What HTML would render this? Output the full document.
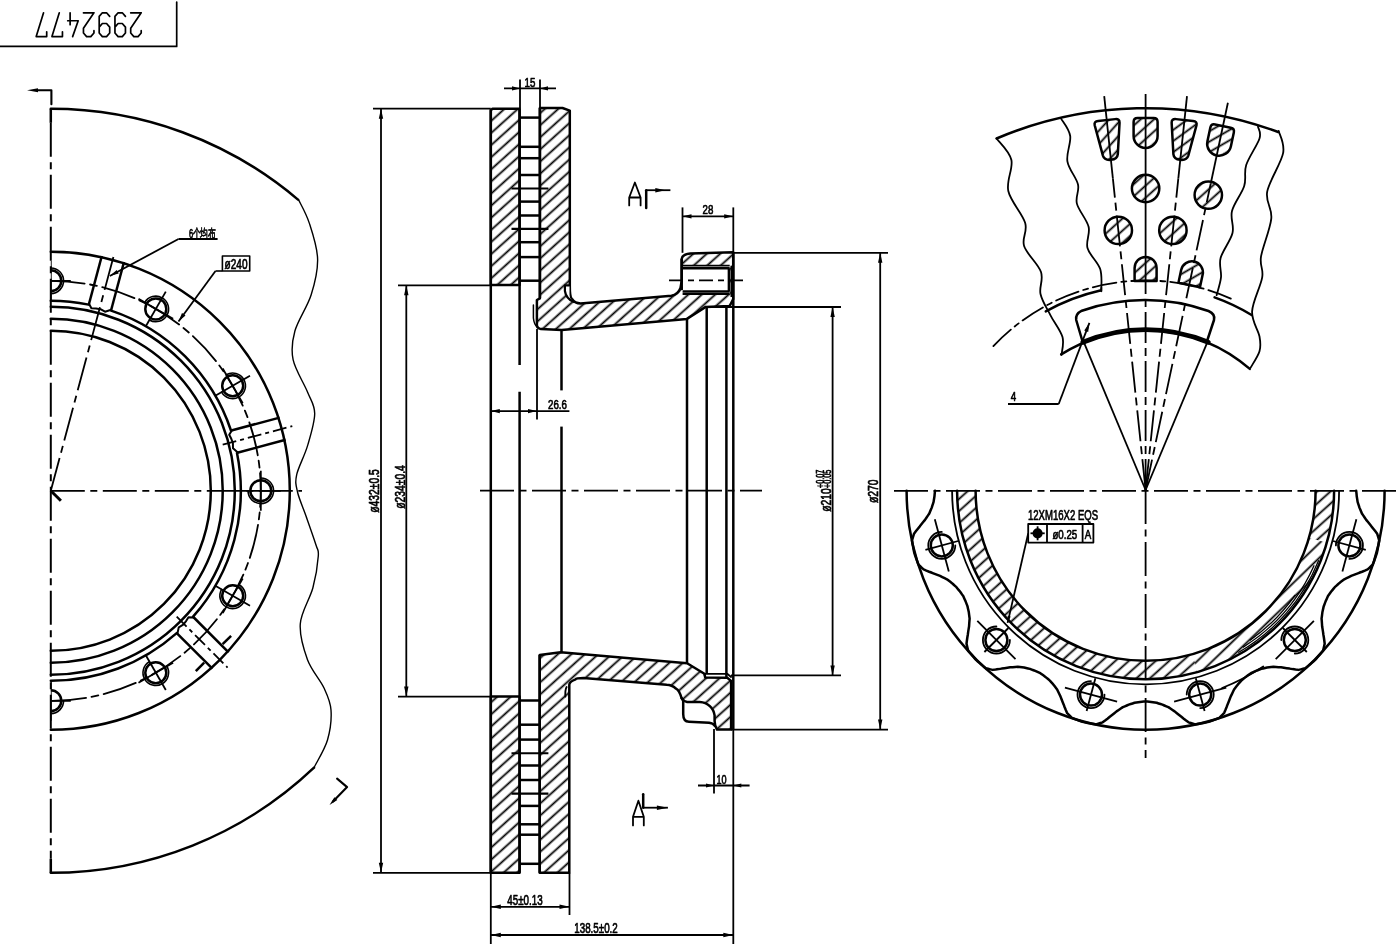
<!DOCTYPE html>
<html><head><meta charset="utf-8"><style>
html,body{margin:0;padding:0;background:#fff;width:1400px;height:946px;overflow:hidden}
svg{display:block;will-change:transform}
text{fill:#000;stroke:#000;stroke-width:0.7px;font-family:"Liberation Sans",sans-serif}
</style></head><body>
<svg width="1400" height="946" viewBox="0 0 1400 946" stroke="#000" fill="none" stroke-linecap="round" stroke-linejoin="round">
<defs>
<pattern id="h1" patternUnits="userSpaceOnUse" width="9" height="9" patternTransform="rotate(48)"><line x1="4.5" y1="-1" x2="4.5" y2="10" stroke="#000" stroke-width="1.8"/></pattern>
<pattern id="h2" patternUnits="userSpaceOnUse" width="7" height="7" patternTransform="rotate(45)"><line x1="3.5" y1="-1" x2="3.5" y2="9" stroke="#000" stroke-width="1.1"/></pattern>
<pattern id="h3" patternUnits="userSpaceOnUse" width="10.5" height="10.5" patternTransform="rotate(46)"><line x1="5.25" y1="-1" x2="5.25" y2="12" stroke="#000" stroke-width="1.8"/></pattern>
</defs>
<g font-family="Liberation Sans, sans-serif" fill="none">
<path d="M0,46.4 H176.7 V2.1" stroke-width="1.7" fill="none" />
<g stroke-width="1.7" transform="rotate(180 88.6 24.6)"><path transform="translate(36.00,12.60) scale(1.05,1.19)" d="M0,5 L0,3 L3,0 L7,0 L10,3 L10,7 L0,20 L10,20" vector-effect="non-scaling-stroke"/><path transform="translate(51.75,12.60) scale(1.05,1.19)" d="M10,8 L7,11 L3,11 L0,8 L0,3 L3,0 L7,0 L10,3 L10,17 L7,20 L3,20 L0,17" vector-effect="non-scaling-stroke"/><path transform="translate(67.50,12.60) scale(1.05,1.19)" d="M10,8 L7,11 L3,11 L0,8 L0,3 L3,0 L7,0 L10,3 L10,17 L7,20 L3,20 L0,17" vector-effect="non-scaling-stroke"/><path transform="translate(83.25,12.60) scale(1.05,1.19)" d="M0,5 L0,3 L3,0 L7,0 L10,3 L10,7 L0,20 L10,20" vector-effect="non-scaling-stroke"/><path transform="translate(99.00,12.60) scale(1.05,1.19)" d="M5.3,0 L0,13.3 L10,13.3 M7.7,10 L7.7,20" vector-effect="non-scaling-stroke"/><path transform="translate(114.75,12.60) scale(1.05,1.19)" d="M0,4 L0,0 L10,0 L3,20" vector-effect="non-scaling-stroke"/><path transform="translate(130.50,12.60) scale(1.05,1.19)" d="M0,4 L0,0 L10,0 L3,20" vector-effect="non-scaling-stroke"/></g>
<path d="M37,90.3 H51.4 V104.3" stroke-width="2.1" fill="none" />
<path d="M27.0,90.3 L38.0,88.3 L38.0,92.3 Z" fill="#000" stroke="none"/>
<path d="M50.8,108.80000000000001 A382,382 0 0 1 298,199.6" stroke-width="2.5" fill="none" />
<path d="M314,767.7 A382,382 0 0 1 50.8,872.8" stroke-width="2.5" fill="none" />
<path d="M298.5,199.6 C300.3,203.5 306.1,213.2 309.3,223.1 C312.5,233.0 317.3,247.0 317.6,259.0 C317.9,271.0 314.9,283.0 311.1,295.0 C307.3,307.0 297.9,320.2 294.9,331.0 C291.9,341.8 291.0,349.5 293.1,359.7 C295.2,369.9 303.9,383.0 307.5,392.0 C311.1,401.0 314.7,404.6 314.7,413.6 C314.7,422.6 310.5,435.7 307.5,445.9 C304.5,456.1 298.4,466.9 296.7,474.6 C295.0,482.3 295.9,485.1 297.5,492.0 C299.1,498.9 302.9,507.2 306.0,516.0 C309.1,524.8 313.9,538.3 316.0,545.0 C318.1,551.7 318.8,548.9 318.3,556.0 C317.8,563.1 315.9,576.5 312.9,587.8 C309.9,599.1 301.2,611.7 300.3,623.7 C299.4,635.7 303.6,649.0 307.5,659.7 C311.4,670.4 320.1,679.6 324.0,688.0 C327.9,696.4 330.4,701.3 331.0,710.0 C331.6,718.7 330.3,730.4 327.5,740.0 C324.7,749.6 316.2,763.0 314.0,767.7" stroke-width="1.4" fill="none" />
<line x1="50.8" y1="108.8" x2="50.8" y2="122.8" stroke-width="2.5" stroke-linecap="butt"/>
<line x1="50.8" y1="122.8" x2="50.8" y2="858.8" stroke-width="1.9800000000000002" stroke-dasharray="34 5.5 7 5.5" stroke-linecap="butt"/>
<line x1="50.8" y1="858.8" x2="50.8" y2="872.8" stroke-width="2.5" stroke-linecap="butt"/>
<line x1="50.8" y1="490.8" x2="302.0" y2="490.8" stroke-width="1.8" stroke-dasharray="34 5.5 7 5.5" stroke-linecap="butt"/>
<line x1="50.8" y1="490.8" x2="114.7" y2="252.2" stroke-width="1.8" stroke-dasharray="34 5.5 7 5.5" stroke-linecap="butt"/>
<line x1="50.8" y1="490.8" x2="60.9" y2="500.8" stroke-width="3.0" stroke-linecap="butt"/>
<path d="M50.8,251.8 A239,239 0 0 1 50.8,729.8" stroke-width="2.5" fill="none" />
<path d="M50.8,306.8 A184,184 0 0 1 50.8,674.8" stroke-width="2.5" fill="none" />
<path d="M50.8,318.8 A172,172 0 0 1 50.8,662.8" stroke-width="2.5" fill="none" />
<path d="M50.8,330.8 A160,160 0 0 1 50.8,650.8" stroke-width="2.5" fill="none" />
<path d="M50.80,300.80 A190.00,190.00 0 0 1 88.68,304.61" stroke-width="2.5" fill="none" />
<path d="M111.09,310.62 A190.00,190.00 0 0 1 230.98,430.51" stroke-width="2.5" fill="none" />
<path d="M236.99,452.92 A190.00,190.00 0 0 1 193.10,616.70" stroke-width="2.5" fill="none" />
<path d="M176.70,633.10 A190.00,190.00 0 0 1 50.80,680.80" stroke-width="2.5" fill="none" />
<path d="M50.8,280.8 A210,210 0 0 1 50.8,700.8" stroke-width="1.8" fill="none" stroke-dasharray="34 5.5 7 5.5" />
<clipPath id="cl1"><rect x="50.8" y="0" width="400" height="946"/></clipPath>
<g clip-path="url(#cl1)">
<circle cx="50.8" cy="280.8" r="10.5" stroke-width="2.5" fill="none"/>
<path d="M50.80,293.60 A12.80,12.80 0 1 0 38.00,280.80" stroke-width="1.6" fill="none" />
<line x1="50.8" y1="300.8" x2="50.8" y2="260.8" stroke-width="1.8" stroke-linecap="butt"/>
<line x1="70.8" y1="280.8" x2="30.8" y2="280.8" stroke-width="1.8" stroke-linecap="butt"/>
<circle cx="155.8" cy="308.9" r="10.5" stroke-width="2.5" fill="none"/>
<path d="M149.40,320.02 A12.80,12.80 0 1 0 144.71,302.53" stroke-width="1.6" fill="none" />
<line x1="145.8" y1="326.3" x2="165.8" y2="291.6" stroke-width="1.8" stroke-linecap="butt"/>
<line x1="173.1" y1="318.9" x2="138.5" y2="298.9" stroke-width="1.8" stroke-linecap="butt"/>
<circle cx="232.7" cy="385.8" r="10.5" stroke-width="2.5" fill="none"/>
<path d="M221.58,392.20 A12.80,12.80 0 1 0 226.27,374.71" stroke-width="1.6" fill="none" />
<line x1="215.3" y1="395.8" x2="250.0" y2="375.8" stroke-width="1.8" stroke-linecap="butt"/>
<line x1="242.7" y1="403.1" x2="222.7" y2="368.5" stroke-width="1.8" stroke-linecap="butt"/>
<circle cx="260.8" cy="490.8" r="10.5" stroke-width="2.5" fill="none"/>
<path d="M248.00,490.80 A12.80,12.80 0 1 0 260.80,478.00" stroke-width="1.6" fill="none" />
<line x1="240.8" y1="490.8" x2="280.8" y2="490.8" stroke-width="1.8" stroke-linecap="butt"/>
<line x1="260.8" y1="510.8" x2="260.8" y2="470.8" stroke-width="1.8" stroke-linecap="butt"/>
<circle cx="232.7" cy="595.8" r="10.5" stroke-width="2.5" fill="none"/>
<path d="M221.58,589.40 A12.80,12.80 0 1 0 239.07,584.71" stroke-width="1.6" fill="none" />
<line x1="215.3" y1="585.8" x2="250.0" y2="605.8" stroke-width="1.8" stroke-linecap="butt"/>
<line x1="222.7" y1="613.1" x2="242.7" y2="578.5" stroke-width="1.8" stroke-linecap="butt"/>
<circle cx="155.8" cy="672.7" r="10.5" stroke-width="2.5" fill="none"/>
<path d="M149.40,661.58 A12.80,12.80 0 1 0 166.89,666.27" stroke-width="1.6" fill="none" />
<line x1="145.8" y1="655.3" x2="165.8" y2="690.0" stroke-width="1.8" stroke-linecap="butt"/>
<line x1="138.5" y1="682.7" x2="173.1" y2="662.7" stroke-width="1.8" stroke-linecap="butt"/>
<circle cx="50.8" cy="700.8" r="10.5" stroke-width="2.5" fill="none"/>
<path d="M50.80,688.00 A12.80,12.80 0 1 0 63.60,700.80" stroke-width="1.6" fill="none" />
<line x1="50.8" y1="680.8" x2="50.8" y2="720.8" stroke-width="1.8" stroke-linecap="butt"/>
<line x1="30.8" y1="700.8" x2="70.8" y2="700.8" stroke-width="1.8" stroke-linecap="butt"/>
</g>
<line x1="88.9" y1="304.3" x2="101.8" y2="256.0" stroke-width="2.5" stroke-linecap="butt"/>
<line x1="111.1" y1="310.3" x2="124.0" y2="262.0" stroke-width="2.5" stroke-linecap="butt"/>
<path d="M89.0,303.8 L91.4,308.3 L96.0,308.5 L100.5,309.2 L105.0,311.7 L111.2,309.8" stroke-width="2.0" fill="none" />
<line x1="231.3" y1="430.5" x2="279.6" y2="417.6" stroke-width="2.5" stroke-linecap="butt"/>
<line x1="237.3" y1="452.7" x2="285.6" y2="439.8" stroke-width="2.5" stroke-linecap="butt"/>
<line x1="222.7" y1="444.7" x2="292.3" y2="426.1" stroke-width="1.8" stroke-dasharray="14 4 4 4" stroke-linecap="butt"/>
<path d="M231.8,430.4 L229.2,434.7 L231.3,438.8 L232.9,443.0 L233.0,448.2 L237.8,452.6" stroke-width="2.0" fill="none" />
<line x1="193.3" y1="617.0" x2="228.6" y2="652.4" stroke-width="2.5" stroke-linecap="butt"/>
<line x1="177.0" y1="633.3" x2="212.4" y2="668.6" stroke-width="2.5" stroke-linecap="butt"/>
<line x1="176.7" y1="616.7" x2="227.6" y2="667.6" stroke-width="1.8" stroke-dasharray="14 4 4 4" stroke-linecap="butt"/>
<path d="M193.6,617.4 L188.5,617.2 L186.1,621.1 L183.2,624.7 L178.8,627.3 L177.4,633.6" stroke-width="2.0" fill="none" />
<line x1="204.2" y1="662.6" x2="195.8" y2="671.1" stroke-width="2.5" stroke-linecap="butt"/>
<line x1="222.6" y1="644.2" x2="231.1" y2="635.8" stroke-width="2.5" stroke-linecap="butt"/>
<line x1="178.5" y1="239.0" x2="217.6" y2="239.0" stroke-width="1.8" stroke-linecap="butt"/>
<line x1="178.5" y1="239.0" x2="109.8" y2="276.0" stroke-width="1.8" stroke-linecap="butt"/>
<path d="M109.8,276.0 L116.7,269.9 L118.7,273.6 Z" fill="#000" stroke="none"/>
<text transform="translate(189.0,237.6) scale(0.6,1)" font-size="12.5" text-anchor="start" >6个均布</text>
<path d="M222.4,256 H249.7 V271 H222.4 Z" stroke-width="1.6" fill="none" />
<text transform="translate(236.0,269.0) scale(0.72,1)" font-size="14" text-anchor="middle" >ø240</text>
<line x1="215.5" y1="271.0" x2="222.4" y2="271.0" stroke-width="1.6" stroke-linecap="butt"/>
<line x1="215.5" y1="271.0" x2="178.5" y2="321.5" stroke-width="1.8" stroke-linecap="butt"/>
<path d="M178.5,321.5 L182.0,313.0 L185.5,315.4 Z" fill="#000" stroke="none"/>
<path d="M337.1,778.6 L347.1,787.1 L333,801.5" stroke-width="2.1" fill="none" />
<path d="M329.5,805.0 L334.4,797.2 L337.3,800.1 Z" fill="#000" stroke="none"/>
<line x1="373.0" y1="108.7" x2="490.8" y2="108.7" stroke-width="1.8" stroke-linecap="butt"/>
<line x1="373.0" y1="872.8" x2="490.8" y2="872.8" stroke-width="1.8" stroke-linecap="butt"/>
<line x1="381.0" y1="108.7" x2="381.0" y2="872.8" stroke-width="1.8" stroke-linecap="butt"/>
<path d="M381.0,108.7 L383.2,118.7 L378.8,118.7 Z" fill="#000" stroke="none"/>
<path d="M381.0,872.8 L378.8,862.8 L383.2,862.8 Z" fill="#000" stroke="none"/>
<text transform="translate(379.3,491.0) rotate(-90) scale(0.74,1)" font-size="14" text-anchor="middle" >ø432±0.5</text>
<line x1="398.0" y1="285.3" x2="490.8" y2="285.3" stroke-width="1.8" stroke-linecap="butt"/>
<line x1="398.0" y1="696.6" x2="490.8" y2="696.6" stroke-width="1.8" stroke-linecap="butt"/>
<line x1="406.3" y1="285.3" x2="406.3" y2="696.6" stroke-width="1.8" stroke-linecap="butt"/>
<path d="M406.3,285.3 L408.5,295.3 L404.1,295.3 Z" fill="#000" stroke="none"/>
<path d="M406.3,696.6 L404.1,686.6 L408.5,686.6 Z" fill="#000" stroke="none"/>
<text transform="translate(404.8,487.0) rotate(-90) scale(0.74,1)" font-size="14" text-anchor="middle" >ø234±0.4</text>
<path d="M490.8,110.5 L492.5,108.7 L519.6,108.7 L519.6,284.9 L490.8,284.9 Z" stroke-width="2.5" fill="url(#h1)" />
<path d="M490.8,696.6 L519.6,696.6 L519.6,872.8 L490.8,872.8 Z" stroke-width="2.5" fill="url(#h1)" />
<path d="M539.9,108 L562.5,108 L569.8,110.6 L569.8,285.4 C569.8,292 570.5,298 572,299 C574,302 577,303.4 580.6,303.4 L671.4,295.7 C676,295 679,292 680.5,288 L681.7,281 L681.7,258.9 C682,256 684,254 690.3,253.4 L733.2,252.3 L733.2,299.1 L729.7,306 L705.7,306.9 L686.9,318.9 L561.7,330 L541,329.1 C538.5,328.5 536.9,327 536.9,324.9 L536.9,300 L539.9,298.3 Z" stroke-width="2.5" fill="url(#h1)" />
<path d="M539.7,654.9 L560.6,652.3 L687.1,663.3 L704.4,673.8 L705.2,677.5 L727.2,677.7 L731.1,680.9 L731.1,729.6 L717,729.6 C715.5,727 714.6,725 714.6,721 L714.6,715.4 C713.5,708 708,702.5 699.7,702 L687.1,702 C684.5,701.5 683.2,700.5 681.6,698.1 C680,693 678,689.5 676.1,688.7 C673,686 670,684.8 666.7,684.8 L583.4,678 C579,678 576,678.5 575.6,679.3 C571,681 569.3,683 569.3,684.8 L569.3,872.8 L539.7,872.8 Z" stroke-width="2.5" fill="url(#h1)" />
<path d="M565,285.3 L569.5,285.3 L569.5,296 Q570,299.5 574,301.5 Q566.5,298 565,292 Z" fill="#fff" stroke="none"/>
<path d="M569.5,285.3 L564.9,285.3 L564.9,291 Q566,298.5 573.5,301.8" stroke-width="2.2" fill="none" />
<path d="M533.4,305 L533.4,318 Q534,324.5 537.5,327.5" stroke-width="1.5" fill="none" />
<path d="M566.6,687 Q565,690 565.3,696.6" stroke-width="1.8" fill="none" />
<rect x="682.8" y="265.7" width="46.9" height="28.3" fill="#fff" stroke="none"/>
<line x1="682.6" y1="265.7" x2="729.7" y2="265.7" stroke-width="1.8" stroke-linecap="butt"/>
<line x1="682.6" y1="268.3" x2="729.7" y2="268.3" stroke-width="2.5" stroke-linecap="butt"/>
<line x1="682.6" y1="291.4" x2="729.7" y2="291.4" stroke-width="2.5" stroke-linecap="butt"/>
<line x1="682.6" y1="294.0" x2="729.7" y2="294.0" stroke-width="1.8" stroke-linecap="butt"/>
<line x1="681.7" y1="258.9" x2="681.7" y2="290.0" stroke-width="2.5" stroke-linecap="butt"/>
<line x1="728.9" y1="268.3" x2="728.9" y2="291.4" stroke-width="2.5" stroke-linecap="butt"/>
<line x1="731.4" y1="265.7" x2="731.4" y2="297.0" stroke-width="1.8" stroke-linecap="butt"/>
<line x1="669.0" y1="280.3" x2="747.0" y2="280.3" stroke-width="1.8" stroke-dasharray="14 5 6 5" stroke-linecap="butt"/>
<path d="M681.6,698.1 L683.2,701 L683.2,714 C683.2,719 685,721.7 689,721.7 L709.1,722.8 C712,723.2 714,724.5 714.6,725.6" stroke-width="2.5" fill="none" />
<path d="M705.2,677.5 L704.4,673.8 L727.2,673.8 L731.1,677" stroke-width="1.8" fill="none" />
<line x1="490.8" y1="108.7" x2="490.8" y2="872.8" stroke-width="2.5" stroke-linecap="butt"/>
<line x1="490.8" y1="872.8" x2="490.8" y2="944.0" stroke-width="1.8" stroke-linecap="butt"/>
<line x1="519.6" y1="108.7" x2="519.6" y2="365.0" stroke-width="2.5" stroke-linecap="butt"/>
<line x1="519.6" y1="391.7" x2="519.6" y2="872.8" stroke-width="2.5" stroke-linecap="butt"/>
<line x1="539.9" y1="108.0" x2="539.9" y2="298.0" stroke-width="2.5" stroke-linecap="butt"/>
<line x1="539.7" y1="654.9" x2="539.7" y2="872.8" stroke-width="2.5" stroke-linecap="butt"/>
<line x1="561.5" y1="330.8" x2="561.5" y2="390.4" stroke-width="2.5" stroke-linecap="butt"/>
<line x1="561.5" y1="426.6" x2="561.5" y2="652.3" stroke-width="2.5" stroke-linecap="butt"/>
<line x1="537.0" y1="329.0" x2="537.0" y2="419.6" stroke-width="1.8" stroke-linecap="butt"/>
<line x1="687.0" y1="318.9" x2="687.0" y2="663.3" stroke-width="2.5" stroke-linecap="butt"/>
<line x1="706.7" y1="306.9" x2="706.7" y2="673.8" stroke-width="2.5" stroke-linecap="butt"/>
<line x1="726.4" y1="306.0" x2="726.4" y2="677.7" stroke-width="2.5" stroke-linecap="butt"/>
<line x1="733.3" y1="207.4" x2="733.3" y2="252.3" stroke-width="1.8" stroke-linecap="butt"/>
<line x1="733.3" y1="252.3" x2="733.3" y2="729.6" stroke-width="2.5" stroke-linecap="butt"/>
<line x1="733.3" y1="729.6" x2="733.3" y2="944.0" stroke-width="1.8" stroke-linecap="butt"/>
<line x1="519.6" y1="117.6" x2="539.9" y2="117.6" stroke-width="2.5" stroke-linecap="butt"/>
<line x1="519.6" y1="146.8" x2="539.9" y2="146.8" stroke-width="2.5" stroke-linecap="butt"/>
<line x1="519.6" y1="158.2" x2="539.9" y2="158.2" stroke-width="2.5" stroke-linecap="butt"/>
<line x1="519.6" y1="175.0" x2="539.9" y2="175.0" stroke-width="2.5" stroke-linecap="butt"/>
<line x1="519.6" y1="201.6" x2="539.9" y2="201.6" stroke-width="2.5" stroke-linecap="butt"/>
<line x1="519.6" y1="215.5" x2="539.9" y2="215.5" stroke-width="2.5" stroke-linecap="butt"/>
<line x1="519.6" y1="242.2" x2="539.9" y2="242.2" stroke-width="2.5" stroke-linecap="butt"/>
<line x1="519.6" y1="257.1" x2="539.9" y2="257.1" stroke-width="2.5" stroke-linecap="butt"/>
<line x1="519.6" y1="280.7" x2="539.9" y2="280.7" stroke-width="2.5" stroke-linecap="butt"/>
<line x1="519.6" y1="700.5" x2="539.9" y2="700.5" stroke-width="2.5" stroke-linecap="butt"/>
<line x1="519.6" y1="724.7" x2="539.9" y2="724.7" stroke-width="2.5" stroke-linecap="butt"/>
<line x1="519.6" y1="739.6" x2="539.9" y2="739.6" stroke-width="2.5" stroke-linecap="butt"/>
<line x1="519.6" y1="765.5" x2="539.9" y2="765.5" stroke-width="2.5" stroke-linecap="butt"/>
<line x1="519.6" y1="780.0" x2="539.9" y2="780.0" stroke-width="2.5" stroke-linecap="butt"/>
<line x1="519.6" y1="805.9" x2="539.9" y2="805.9" stroke-width="2.5" stroke-linecap="butt"/>
<line x1="519.6" y1="824.3" x2="539.9" y2="824.3" stroke-width="2.5" stroke-linecap="butt"/>
<line x1="519.6" y1="834.7" x2="539.9" y2="834.7" stroke-width="2.5" stroke-linecap="butt"/>
<line x1="519.6" y1="863.8" x2="539.9" y2="863.8" stroke-width="2.5" stroke-linecap="butt"/>
<line x1="511.5" y1="188.5" x2="548.4" y2="188.5" stroke-width="2.1" stroke-linecap="butt"/>
<line x1="511.5" y1="228.9" x2="548.4" y2="228.9" stroke-width="2.1" stroke-linecap="butt"/>
<line x1="511.5" y1="753.2" x2="548.4" y2="753.2" stroke-width="2.1" stroke-linecap="butt"/>
<line x1="511.5" y1="793.6" x2="548.4" y2="793.6" stroke-width="2.1" stroke-linecap="butt"/>
<line x1="480.0" y1="490.6" x2="762.0" y2="490.6" stroke-width="1.8" stroke-dasharray="34 5.5 7 5.5" stroke-linecap="butt"/>
<line x1="520.0" y1="79.5" x2="520.0" y2="108.7" stroke-width="1.8" stroke-linecap="butt"/>
<line x1="540.0" y1="79.5" x2="540.0" y2="108.0" stroke-width="1.8" stroke-linecap="butt"/>
<line x1="504.0" y1="88.4" x2="556.0" y2="88.4" stroke-width="1.8" stroke-linecap="butt"/>
<path d="M520.0,88.4 L512.0,90.5 L512.0,86.3 Z" fill="#000" stroke="none"/>
<path d="M540.0,88.4 L548.0,86.3 L548.0,90.5 Z" fill="#000" stroke="none"/>
<text transform="translate(530.0,86.5) scale(0.72,1)" font-size="13.5" text-anchor="middle" >15</text>
<line x1="490.8" y1="411.1" x2="569.4" y2="411.1" stroke-width="1.8" stroke-linecap="butt"/>
<path d="M490.8,411.1 L499.8,409.0 L499.8,413.2 Z" fill="#000" stroke="none"/>
<path d="M537.0,411.1 L528.0,413.2 L528.0,409.0 Z" fill="#000" stroke="none"/>
<text transform="translate(557.5,409.4) scale(0.72,1)" font-size="13.5" text-anchor="middle" >26.6</text>
<line x1="682.5" y1="207.4" x2="682.5" y2="252.8" stroke-width="1.8" stroke-linecap="butt"/>
<line x1="682.5" y1="216.3" x2="733.2" y2="216.3" stroke-width="1.8" stroke-linecap="butt"/>
<path d="M682.5,216.3 L691.5,214.2 L691.5,218.4 Z" fill="#000" stroke="none"/>
<path d="M733.2,216.3 L724.2,218.4 L724.2,214.2 Z" fill="#000" stroke="none"/>
<text transform="translate(708.0,214.0) scale(0.72,1)" font-size="13.5" text-anchor="middle" >28</text>
<line x1="733.2" y1="252.8" x2="888.0" y2="252.8" stroke-width="1.8" stroke-linecap="butt"/>
<line x1="731.0" y1="729.6" x2="888.0" y2="729.6" stroke-width="1.8" stroke-linecap="butt"/>
<line x1="880.2" y1="252.8" x2="880.2" y2="729.6" stroke-width="1.8" stroke-linecap="butt"/>
<path d="M880.2,252.8 L882.4,262.8 L878.0,262.8 Z" fill="#000" stroke="none"/>
<path d="M880.2,729.6 L878.0,719.6 L882.4,719.6 Z" fill="#000" stroke="none"/>
<text transform="translate(878.3,491.3) rotate(-90) scale(0.74,1)" font-size="14" text-anchor="middle" >ø270</text>
<line x1="706.6" y1="307.0" x2="841.0" y2="307.0" stroke-width="1.8" stroke-linecap="butt"/>
<line x1="731.0" y1="675.4" x2="841.0" y2="675.4" stroke-width="1.8" stroke-linecap="butt"/>
<line x1="832.6" y1="307.0" x2="832.6" y2="675.4" stroke-width="1.8" stroke-linecap="butt"/>
<path d="M832.6,307.0 L834.8,317.0 L830.4,317.0 Z" fill="#000" stroke="none"/>
<path d="M832.6,675.4 L830.4,665.4 L834.8,665.4 Z" fill="#000" stroke="none"/>
<text transform="translate(831.4,500.0) rotate(-90) scale(0.74,1)" font-size="14" text-anchor="middle" >ø210</text>
<text transform="translate(823.8,478.8) rotate(-90) scale(0.66,1)" font-size="11" text-anchor="middle" >+0.07</text>
<text transform="translate(830.7,478.8) rotate(-90) scale(0.66,1)" font-size="11" text-anchor="middle" >+0.05</text>
<line x1="714.0" y1="729.0" x2="714.0" y2="793.6" stroke-width="1.8" stroke-linecap="butt"/>
<line x1="698.0" y1="785.5" x2="749.6" y2="785.5" stroke-width="1.8" stroke-linecap="butt"/>
<path d="M714.0,785.5 L706.0,787.6 L706.0,783.4 Z" fill="#000" stroke="none"/>
<path d="M733.3,785.5 L741.3,783.4 L741.3,787.6 Z" fill="#000" stroke="none"/>
<text transform="translate(721.5,784.0) scale(0.7,1)" font-size="13" text-anchor="middle" >10</text>
<line x1="569.5" y1="872.8" x2="569.5" y2="915.0" stroke-width="1.8" stroke-linecap="butt"/>
<line x1="490.8" y1="906.8" x2="569.5" y2="906.8" stroke-width="1.8" stroke-linecap="butt"/>
<path d="M490.8,906.8 L500.8,904.6 L500.8,909.0 Z" fill="#000" stroke="none"/>
<path d="M569.5,906.8 L559.5,909.0 L559.5,904.6 Z" fill="#000" stroke="none"/>
<text transform="translate(525.0,905.0) scale(0.7,1)" font-size="14" text-anchor="middle" >45±0.13</text>
<line x1="490.8" y1="935.0" x2="733.3" y2="935.0" stroke-width="1.8" stroke-linecap="butt"/>
<path d="M490.8,935.0 L500.8,932.8 L500.8,937.2 Z" fill="#000" stroke="none"/>
<path d="M733.3,935.0 L723.3,937.2 L723.3,932.8 Z" fill="#000" stroke="none"/>
<text transform="translate(596.0,933.0) scale(0.7,1)" font-size="14" text-anchor="middle" >138.5±0.2</text>
<path d="M629.2,205.4 L629.2,197.5 L634.9,182.5 L640.6,197.5 L640.6,205.4 M629.2,197.5 L640.6,197.5" stroke-width="1.8" fill="none" />
<path d="M646.2,207.9 V190.2" stroke-width="2.5" fill="none" />
<line x1="646.2" y1="190.2" x2="670.4" y2="190.2" stroke-width="1.8" stroke-linecap="butt"/>
<path d="M665.3,190.2 L655.3,192.5 L655.3,187.9 Z" fill="#000" stroke="none"/>
<path d="M633,825.4 L633,816.8 L638.4,800.7 L643.8,816.8 L643.8,825.4 M633,816.8 L643.8,816.8" stroke-width="1.8" fill="none" />
<path d="M643.2,794.3 V807.7" stroke-width="2.5" fill="none" />
<line x1="643.2" y1="807.7" x2="667.9" y2="807.7" stroke-width="1.8" stroke-linecap="butt"/>
<path d="M667.9,807.7 L656.9,809.9 L656.9,805.5 Z" fill="#000" stroke="none"/>
<path d="M996.6,138.5 A381,381 0 0 1 1278.2,132" stroke-width="2.5" fill="none" />
<path d="M996.6,138.5 C999.1,142.1 1009.5,151.2 1011.4,160.0 C1013.3,168.8 1006.0,180.5 1008.3,191.0 C1010.6,201.5 1022.6,213.8 1025.2,223.0 C1027.8,232.2 1021.5,237.8 1024.1,246.0 C1026.7,254.2 1038.3,264.0 1041.0,272.0 C1043.7,280.0 1038.9,286.8 1040.5,294.0 C1042.1,301.2 1046.8,308.1 1050.5,315.3 C1054.2,322.5 1060.7,330.4 1062.5,337.0 C1064.3,343.6 1061.7,351.9 1061.5,354.9" stroke-width="1.8" fill="none" />
<path d="M1061.1,118.6 C1062.6,121.5 1069.2,128.9 1070.2,136.0 C1071.2,143.1 1066.1,153.2 1067.4,161.3 C1068.7,169.4 1076.4,177.4 1078.0,184.5 C1079.6,191.6 1075.1,196.5 1076.9,203.6 C1078.7,210.7 1086.8,219.4 1088.6,226.8 C1090.4,234.2 1085.6,240.9 1087.5,248.0 C1089.4,255.1 1097.9,261.9 1100.2,269.1 C1102.5,276.3 1101.1,287.6 1101.3,291.3" stroke-width="1.8" fill="none" />
<path d="M1258.0,126.6 C1258.2,128.6 1261.5,132.0 1259.5,138.4 C1257.5,144.8 1248.8,157.1 1246.2,165.0 C1243.7,172.9 1246.6,178.3 1244.2,186.0 C1241.8,193.7 1234.0,203.2 1232.0,211.0 C1230.0,218.8 1234.4,225.2 1232.5,233.0 C1230.6,240.8 1222.5,250.6 1220.6,258.0 C1218.7,265.4 1221.7,271.2 1221.0,277.4 C1220.3,283.6 1217.3,292.2 1216.6,295.2" stroke-width="1.8" fill="none" />
<path d="M1278.7,131.0 C1279.4,134.7 1285.0,143.1 1283.1,153.2 C1281.2,163.3 1269.2,180.8 1267.2,191.6 C1265.2,202.4 1272.3,207.5 1271.3,218.3 C1270.3,229.2 1262.5,246.8 1261.0,256.7 C1259.5,266.5 1263.7,268.3 1262.2,277.4 C1260.7,286.5 1252.5,301.5 1252.1,311.4 C1251.6,321.2 1258.3,329.9 1259.5,336.5 C1260.7,343.1 1261.0,346.1 1259.5,351.3 C1258.0,356.5 1252.1,364.9 1250.6,367.6" stroke-width="1.8" fill="none" />
<path d="M1061.16,354.33 A159.80,159.80 0 0 1 1249.81,368.85" stroke-width="2.5" fill="none" />
<path d="M1082.89,342.26 A160.50,160.50 0 0 1 1208.31,342.26" stroke-width="4.75" fill="none" />
<path d="M1083,343 L1076.2,320 Q1075.2,314 1081.9,310.7 A190,190 0 0 1 1208.5,311 Q1215.5,314 1214,320 L1207.4,340" stroke-width="2.5" fill="none" />
<path d="M1045.78,311.40 A204.60,204.60 0 0 1 1100.27,290.48" stroke-width="2.5" fill="none" />
<path d="M1214.57,297.38 A204.60,204.60 0 0 1 1251.59,314.99" stroke-width="2.5" fill="none" />
<line x1="1101.3" y1="287.4" x2="1101.3" y2="291.5" stroke-width="1.8" stroke-linecap="butt"/>
<path d="M993.38,346.06 A209.50,209.50 0 0 1 1231.48,298.91" stroke-width="1.8" fill="none" stroke-dasharray="24 5 5 5" />
<line x1="1145.6" y1="490.0" x2="1083.9" y2="342.4" stroke-width="1.8" stroke-linecap="butt"/>
<line x1="1145.6" y1="490.0" x2="1207.3" y2="342.4" stroke-width="1.8" stroke-linecap="butt"/>
<line x1="1112.9" y1="178.7" x2="1104.2" y2="96.2" stroke-width="1.8" stroke-linecap="butt"/>
<line x1="1145.6" y1="490.0" x2="1112.9" y2="178.7" stroke-width="1.8" stroke-dasharray="31 5 8 5" stroke-linecap="butt"/>
<line x1="1145.6" y1="290.0" x2="1145.6" y2="94.0" stroke-width="1.8" stroke-linecap="butt"/>
<line x1="1145.6" y1="490.0" x2="1145.6" y2="290.0" stroke-width="1.8" stroke-dasharray="31 5 8 5" stroke-linecap="butt"/>
<line x1="1178.3" y1="178.7" x2="1187.0" y2="96.2" stroke-width="1.8" stroke-linecap="butt"/>
<line x1="1145.6" y1="490.0" x2="1178.3" y2="178.7" stroke-width="1.8" stroke-dasharray="31 5 8 5" stroke-linecap="butt"/>
<line x1="1210.7" y1="183.8" x2="1227.9" y2="102.7" stroke-width="1.8" stroke-linecap="butt"/>
<line x1="1145.6" y1="490.0" x2="1210.7" y2="183.8" stroke-width="1.8" stroke-dasharray="31 5 8 5" stroke-linecap="butt"/>
<line x1="894.0" y1="490.8" x2="1400.0" y2="490.8" stroke-width="1.8" stroke-dasharray="34 5.5 7 5.5" stroke-linecap="butt"/>
<line x1="1145.6" y1="490.0" x2="1145.6" y2="758.0" stroke-width="1.8" stroke-dasharray="34 5.5 7 5.5" stroke-linecap="butt"/>
<path d="M-12.5,-16.0 Q-13.0,-20.0 -8.5,-20.0 L8.5,-20.0 Q13.0,-20.0 12.5,-16.0 L7.5,15.0 Q6.5,20.0 0,20.0 Q-6.5,20.0 -7.5,15.0 Z" transform="translate(1108.8,139.9) rotate(-6)" fill="url(#h1)" stroke="none"/>
<path d="M-12.5,-16.0 Q-13.0,-20.0 -8.5,-20.0 L8.5,-20.0 Q13.0,-20.0 12.5,-16.0 L7.5,15.0 Q6.5,20.0 0,20.0 Q-6.5,20.0 -7.5,15.0 Z" transform="translate(1108.8,139.9) rotate(-6)" stroke-width="2.5" fill="none"/>
<path d="M-12.0,-11.0 Q-12.0,-15.0 -8.0,-15.0 L8.0,-15.0 Q12.0,-15.0 12.0,-11.0 L12.0,3.0 A12.0,12.0 0 0 1 -12.0,3.0 Z" transform="translate(1145.6,133.0) rotate(0)" fill="url(#h1)" stroke="none"/>
<path d="M-12.0,-11.0 Q-12.0,-15.0 -8.0,-15.0 L8.0,-15.0 Q12.0,-15.0 12.0,-11.0 L12.0,3.0 A12.0,12.0 0 0 1 -12.0,3.0 Z" transform="translate(1145.6,133.0) rotate(0)" stroke-width="2.5" fill="none"/>
<path d="M-12.5,-16.0 Q-13.0,-20.0 -8.5,-20.0 L8.5,-20.0 Q13.0,-20.0 12.5,-16.0 L7.5,15.0 Q6.5,20.0 0,20.0 Q-6.5,20.0 -7.5,15.0 Z" transform="translate(1182.4,139.9) rotate(6)" fill="url(#h1)" stroke="none"/>
<path d="M-12.5,-16.0 Q-13.0,-20.0 -8.5,-20.0 L8.5,-20.0 Q13.0,-20.0 12.5,-16.0 L7.5,15.0 Q6.5,20.0 0,20.0 Q-6.5,20.0 -7.5,15.0 Z" transform="translate(1182.4,139.9) rotate(6)" stroke-width="2.5" fill="none"/>
<path d="M-12.0,-11.0 Q-12.0,-15.0 -8.0,-15.0 L8.0,-15.0 Q12.0,-15.0 12.0,-11.0 L12.0,3.0 A12.0,12.0 0 0 1 -12.0,3.0 Z" transform="translate(1219.8,140.8) rotate(12)" fill="url(#h1)" stroke="none"/>
<path d="M-12.0,-11.0 Q-12.0,-15.0 -8.0,-15.0 L8.0,-15.0 Q12.0,-15.0 12.0,-11.0 L12.0,3.0 A12.0,12.0 0 0 1 -12.0,3.0 Z" transform="translate(1219.8,140.8) rotate(12)" stroke-width="2.5" fill="none"/>
<path d="M1131.9,188.5 A13.7,13.7 0 1 1 1159.3,188.5 A13.7,13.7 0 1 1 1131.9,188.5 Z" fill="url(#h1)" stroke="none"/>
<path d="M1131.9,188.5 A13.7,13.7 0 1 1 1159.3,188.5 A13.7,13.7 0 1 1 1131.9,188.5 Z" stroke-width="2.5" fill="none"/>
<path d="M1194.6,195.1 A13.7,13.7 0 1 1 1222.0,195.1 A13.7,13.7 0 1 1 1194.6,195.1 Z" fill="url(#h1)" stroke="none"/>
<path d="M1194.6,195.1 A13.7,13.7 0 1 1 1222.0,195.1 A13.7,13.7 0 1 1 1194.6,195.1 Z" stroke-width="2.5" fill="none"/>
<path d="M1104.6,230.4 A13.7,13.7 0 1 1 1132.0,230.4 A13.7,13.7 0 1 1 1104.6,230.4 Z" fill="url(#h1)" stroke="none"/>
<path d="M1104.6,230.4 A13.7,13.7 0 1 1 1132.0,230.4 A13.7,13.7 0 1 1 1104.6,230.4 Z" stroke-width="2.5" fill="none"/>
<path d="M1159.2,230.4 A13.7,13.7 0 1 1 1186.6,230.4 A13.7,13.7 0 1 1 1159.2,230.4 Z" fill="url(#h1)" stroke="none"/>
<path d="M1159.2,230.4 A13.7,13.7 0 1 1 1186.6,230.4 A13.7,13.7 0 1 1 1159.2,230.4 Z" stroke-width="2.5" fill="none"/>
<path d="M-11,12 L-11,-1 A11,11 0 0 1 11,-1 L11,12 Z" transform="translate(1145.6,269.0) rotate(0)" fill="url(#h1)" stroke="none"/>
<path d="M-11,12 L-11,-1 A11,11 0 0 1 11,-1 L11,12 Z" transform="translate(1145.6,269.0) rotate(0)" stroke-width="2.5" fill="none"/>
<path d="M-11,12 L-11,-1 A11,11 0 0 1 11,-1 L11,12 Z" transform="translate(1191.7,273.3) rotate(12)" fill="url(#h1)" stroke="none"/>
<path d="M-11,12 L-11,-1 A11,11 0 0 1 11,-1 L11,12 Z" transform="translate(1191.7,273.3) rotate(12)" stroke-width="2.5" fill="none"/>
<line x1="1008.0" y1="404.0" x2="1058.7" y2="404.0" stroke-width="1.8" stroke-linecap="butt"/>
<line x1="1058.7" y1="404.0" x2="1089.4" y2="322.9" stroke-width="1.8" stroke-linecap="butt"/>
<path d="M1089.4,322.9 L1088.2,332.1 L1084.2,330.6 Z" fill="#000" stroke="none"/>
<text transform="translate(1013.5,401.0) scale(0.75,1)" font-size="13" text-anchor="middle" >4</text>
<path d="M906.5999999999999,490.8 A239,239 0 0 0 1384.6,490.8" stroke-width="2.5" fill="none" />
<path d="M935.00,490.80 L934.81,492.64 L934.63,494.48 L934.47,496.33 L934.16,498.18 L933.87,500.04 L933.59,501.91 L932.96,503.81 L932.35,505.71 L931.76,507.63 L930.92,509.58 L930.10,511.55 L929.29,513.53 L927.84,515.61 L926.41,517.71 L925.00,519.84 L923.19,522.06 L921.39,524.31 L919.62,526.59 L917.68,528.94 L915.83,531.31 L914.04,533.72 L913.35,535.95 L912.67,538.19 L912.02,540.45 L912.35,542.51 L912.69,544.57 L913.06,546.63 L913.44,548.68 L913.84,550.74 L914.26,552.79 L914.92,554.77 L915.60,556.75 L916.30,558.72 L917.01,560.69 L917.74,562.64 L918.49,564.59 L920.18,566.22 L921.89,567.83 L923.61,569.41 L926.36,570.60 L929.15,571.73 L932.00,572.79 L934.67,573.89 L937.35,574.94 L940.04,575.95 L942.32,577.09 L944.61,578.19 L946.90,579.27 L948.59,580.58 L950.29,581.87 L952.00,583.14 L953.47,584.51 L954.95,585.86 L956.44,587.18 L957.61,588.66 L958.80,590.12 L959.99,591.58 L961.06,593.09 L962.13,594.60 L963.22,596.10 L963.97,597.79 L964.74,599.47 L965.52,601.15 L966.18,602.91 L966.86,604.67 L967.55,606.43 L967.95,608.38 L968.38,610.34 L968.82,612.29 L969.07,614.41 L969.34,616.52 L969.64,618.64 L969.42,621.17 L969.23,623.70 L969.08,626.25 L968.61,629.08 L968.18,631.92 L967.79,634.79 L967.29,637.79 L966.87,640.77 L966.52,643.75 L967.04,646.02 L967.57,648.30 L968.14,650.59 L969.45,652.21 L970.78,653.82 L972.13,655.42 L973.49,657.01 L974.86,658.59 L976.25,660.15 L977.81,661.54 L979.39,662.91 L980.98,664.27 L982.58,665.62 L984.19,666.95 L985.81,668.26 L988.10,668.83 L990.38,669.36 L992.65,669.88 L995.63,669.53 L998.61,669.11 L1001.61,668.61 L1004.48,668.22 L1007.32,667.79 L1010.15,667.32 L1012.70,667.17 L1015.23,666.98 L1017.76,666.76 L1019.88,667.06 L1021.99,667.33 L1024.11,667.58 L1026.06,668.02 L1028.02,668.45 L1029.97,668.85 L1031.73,669.54 L1033.49,670.22 L1035.25,670.88 L1036.93,671.66 L1038.61,672.43 L1040.30,673.18 L1041.80,674.27 L1043.31,675.34 L1044.82,676.41 L1046.28,677.60 L1047.74,678.79 L1049.22,679.96 L1050.54,681.45 L1051.89,682.93 L1053.26,684.40 L1054.53,686.11 L1055.82,687.81 L1057.13,689.50 L1058.21,691.79 L1059.31,694.08 L1060.45,696.36 L1061.46,699.05 L1062.51,701.73 L1063.61,704.40 L1064.67,707.25 L1065.80,710.04 L1066.99,712.79 L1068.57,714.51 L1070.18,716.22 L1071.81,717.91 L1073.76,718.66 L1075.71,719.39 L1077.68,720.10 L1079.65,720.80 L1081.63,721.48 L1083.61,722.14 L1085.66,722.56 L1087.72,722.96 L1089.77,723.34 L1091.83,723.71 L1093.89,724.05 L1095.95,724.38 L1098.21,723.73 L1100.45,723.05 L1102.68,722.36 L1105.09,720.57 L1107.46,718.72 L1109.81,716.78 L1112.09,715.01 L1114.34,713.21 L1116.56,711.40 L1118.69,709.99 L1120.79,708.56 L1122.87,707.11 L1124.85,706.30 L1126.82,705.48 L1128.77,704.64 L1130.69,704.05 L1132.59,703.44 L1134.49,702.81 L1136.36,702.53 L1138.22,702.24 L1140.07,701.93 L1141.92,701.77 L1143.76,701.59 L1145.60,701.40 L1147.44,701.59 L1149.28,701.77 L1151.13,701.93 L1152.98,702.24 L1154.84,702.53 L1156.71,702.81 L1158.61,703.44 L1160.51,704.05 L1162.43,704.64 L1164.38,705.48 L1166.35,706.30 L1168.33,707.11 L1170.41,708.56 L1172.51,709.99 L1174.64,711.40 L1176.86,713.21 L1179.11,715.01 L1181.39,716.78 L1183.74,718.72 L1186.11,720.57 L1188.52,722.36 L1190.75,723.05 L1192.99,723.73 L1195.25,724.38 L1197.31,724.05 L1199.37,723.71 L1201.43,723.34 L1203.48,722.96 L1205.54,722.56 L1207.59,722.14 L1209.57,721.48 L1211.55,720.80 L1213.52,720.10 L1215.49,719.39 L1217.44,718.66 L1219.39,717.91 L1221.02,716.22 L1222.63,714.51 L1224.21,712.79 L1225.40,710.04 L1226.53,707.25 L1227.59,704.40 L1228.69,701.73 L1229.74,699.05 L1230.75,696.36 L1231.89,694.08 L1232.99,691.79 L1234.07,689.50 L1235.38,687.81 L1236.67,686.11 L1237.94,684.40 L1239.31,682.93 L1240.66,681.45 L1241.98,679.96 L1243.46,678.79 L1244.92,677.60 L1246.38,676.41 L1247.89,675.34 L1249.40,674.27 L1250.90,673.18 L1252.59,672.43 L1254.27,671.66 L1255.95,670.88 L1257.71,670.22 L1259.47,669.54 L1261.23,668.85 L1263.18,668.45 L1265.14,668.02 L1267.09,667.58 L1269.21,667.33 L1271.32,667.06 L1273.44,666.76 L1275.97,666.98 L1278.50,667.17 L1281.05,667.32 L1283.88,667.79 L1286.72,668.22 L1289.59,668.61 L1292.59,669.11 L1295.57,669.53 L1298.55,669.88 L1300.82,669.36 L1303.10,668.83 L1305.39,668.26 L1307.01,666.95 L1308.62,665.62 L1310.22,664.27 L1311.81,662.91 L1313.39,661.54 L1314.95,660.15 L1316.34,658.59 L1317.71,657.01 L1319.07,655.42 L1320.42,653.82 L1321.75,652.21 L1323.06,650.59 L1323.63,648.30 L1324.16,646.02 L1324.68,643.75 L1324.33,640.77 L1323.91,637.79 L1323.41,634.79 L1323.02,631.92 L1322.59,629.08 L1322.12,626.25 L1321.97,623.70 L1321.78,621.17 L1321.56,618.64 L1321.86,616.52 L1322.13,614.41 L1322.38,612.29 L1322.82,610.34 L1323.25,608.38 L1323.65,606.43 L1324.34,604.67 L1325.02,602.91 L1325.68,601.15 L1326.46,599.47 L1327.23,597.79 L1327.98,596.10 L1329.07,594.60 L1330.14,593.09 L1331.21,591.58 L1332.40,590.12 L1333.59,588.66 L1334.76,587.18 L1336.25,585.86 L1337.73,584.51 L1339.20,583.14 L1340.91,581.87 L1342.61,580.58 L1344.30,579.27 L1346.59,578.19 L1348.88,577.09 L1351.16,575.95 L1353.85,574.94 L1356.53,573.89 L1359.20,572.79 L1362.05,571.73 L1364.84,570.60 L1367.59,569.41 L1369.31,567.83 L1371.02,566.22 L1372.71,564.59 L1373.46,562.64 L1374.19,560.69 L1374.90,558.72 L1375.60,556.75 L1376.28,554.77 L1376.94,552.79 L1377.36,550.74 L1377.76,548.68 L1378.14,546.63 L1378.51,544.57 L1378.85,542.51 L1379.18,540.45 L1378.53,538.19 L1377.85,535.95 L1377.16,533.72 L1375.37,531.31 L1373.52,528.94 L1371.58,526.59 L1369.81,524.31 L1368.01,522.06 L1366.20,519.84 L1364.79,517.71 L1363.36,515.61 L1361.91,513.53 L1361.10,511.55 L1360.28,509.58 L1359.44,507.63 L1358.85,505.71 L1358.24,503.81 L1357.61,501.91 L1357.33,500.04 L1357.04,498.18 L1356.73,496.33 L1356.57,494.48 L1356.39,492.64 L1356.20,490.80" stroke-width="2.5" fill="none" />
<path d="M957.10,490.80 A188.5,188.5 0 0 0 1197.56,672.00 L1192.46,654.21 A170,170 0 0 1 975.60,490.80 Z" fill="url(#h1)" stroke="none"/>
<path d="M1197.56,672.00 A188.5,188.5 0 0 0 1326.80,542.76 L1309.01,537.66 A170,170 0 0 1 1192.46,654.21 Z" fill="url(#h3)" stroke="none"/>
<path d="M1326.80,542.76 A188.5,188.5 0 0 0 1334.10,490.80 L1315.60,490.80 A170,170 0 0 1 1309.01,537.66 Z" fill="url(#h1)" stroke="none"/>
<path d="M975.60,490.80 A170.00,170.00 0 0 0 1315.60,490.80" stroke-width="2.5" fill="none" />
<path d="M957.10,490.80 A188.50,188.50 0 0 0 1334.10,490.80" stroke-width="2.5" fill="none" />
<path d="M952.10,490.80 A193.50,193.50 0 0 0 1339.10,490.80" stroke-width="1.8" fill="none" />
<path d="M1318.52,560.66 A186.50,186.50 0 0 1 1238.85,652.31" stroke-width="1.3" fill="none" />
<path d="M1313.97,565.76 A184.30,184.30 0 0 1 1243.26,647.10" stroke-width="1.3" fill="none" />
<path d="M1294.93,595.36 A182.30,182.30 0 0 1 1250.16,640.13" stroke-width="1.3" fill="none" />
<circle cx="1091.0" cy="694.6" r="11.0" stroke-width="2.5" fill="none"/>
<path d="M1090.99,681.11 A13.50,13.50 0 1 0 1104.49,694.61" stroke-width="1.8" fill="none" />
<line x1="1095.4" y1="678.2" x2="1086.6" y2="711.0" stroke-width="1.8" stroke-linecap="butt"/>
<line x1="1117.1" y1="701.6" x2="1064.9" y2="687.6" stroke-width="1.8" stroke-linecap="butt"/>
<circle cx="996.4" cy="640.0" r="11.0" stroke-width="2.5" fill="none"/>
<path d="M996.40,626.50 A13.50,13.50 0 1 0 1009.90,640.00" stroke-width="1.8" fill="none" />
<line x1="1008.4" y1="628.0" x2="984.4" y2="652.0" stroke-width="1.8" stroke-linecap="butt"/>
<line x1="1015.5" y1="659.1" x2="977.3" y2="620.9" stroke-width="1.8" stroke-linecap="butt"/>
<circle cx="941.8" cy="545.4" r="11.0" stroke-width="2.5" fill="none"/>
<path d="M941.79,531.91 A13.50,13.50 0 1 0 955.29,545.41" stroke-width="1.8" fill="none" />
<line x1="958.2" y1="541.0" x2="925.4" y2="549.8" stroke-width="1.8" stroke-linecap="butt"/>
<line x1="948.8" y1="571.5" x2="934.8" y2="519.3" stroke-width="1.8" stroke-linecap="butt"/>
<circle cx="1200.2" cy="694.6" r="11.0" stroke-width="2.5" fill="none"/>
<path d="M1186.71,694.61 A13.50,13.50 0 1 1 1200.21,708.11" stroke-width="1.8" fill="none" />
<line x1="1195.8" y1="678.2" x2="1204.6" y2="711.0" stroke-width="1.8" stroke-linecap="butt"/>
<line x1="1226.3" y1="687.6" x2="1174.1" y2="701.6" stroke-width="1.8" stroke-linecap="butt"/>
<circle cx="1294.8" cy="640.0" r="11.0" stroke-width="2.5" fill="none"/>
<path d="M1281.30,640.00 A13.50,13.50 0 1 1 1294.80,653.50" stroke-width="1.8" fill="none" />
<line x1="1282.8" y1="628.0" x2="1306.8" y2="652.0" stroke-width="1.8" stroke-linecap="butt"/>
<line x1="1313.9" y1="620.9" x2="1275.7" y2="659.1" stroke-width="1.8" stroke-linecap="butt"/>
<circle cx="1349.4" cy="545.4" r="11.0" stroke-width="2.5" fill="none"/>
<path d="M1335.91,545.41 A13.50,13.50 0 1 1 1349.41,558.91" stroke-width="1.8" fill="none" />
<line x1="1333.0" y1="541.0" x2="1365.8" y2="549.8" stroke-width="1.8" stroke-linecap="butt"/>
<line x1="1356.4" y1="519.3" x2="1342.4" y2="571.5" stroke-width="1.8" stroke-linecap="butt"/>
<path d="M1222.08,687.99 A211.50,211.50 0 0 0 1263.26,666.55" stroke-width="1.8" fill="none" />
<text transform="translate(1063.0,520.0) scale(0.66,1)" font-size="14.5" text-anchor="middle" >12XM16X2 EQS</text>
<path d="M1028.2,524 H1093.4 V542.6 H1028.2 Z M1047,524 V542.6 M1082.6,524 V542.6" stroke-width="1.8" fill="none" />
<circle cx="1037.6" cy="533.3" r="4.2" stroke-width="1.8" fill="#000"/>
<line x1="1030.5" y1="533.3" x2="1044.7" y2="533.3" stroke-width="1.8" stroke-linecap="butt"/>
<line x1="1037.6" y1="526.3" x2="1037.6" y2="540.3" stroke-width="1.8" stroke-linecap="butt"/>
<text transform="translate(1064.8,539.2) scale(0.72,1)" font-size="13.5" text-anchor="middle" >ø0.25</text>
<text transform="translate(1088.0,539.2) scale(0.72,1)" font-size="13.5" text-anchor="middle" >A</text>
<line x1="1028.2" y1="533.4" x2="1007.6" y2="622.9" stroke-width="1.8" stroke-linecap="butt"/>
<path d="M1007.6,622.9 L1007.6,615.7 L1010.7,616.4 Z" fill="#000" stroke="none"/>
</g></svg>
</body></html>
